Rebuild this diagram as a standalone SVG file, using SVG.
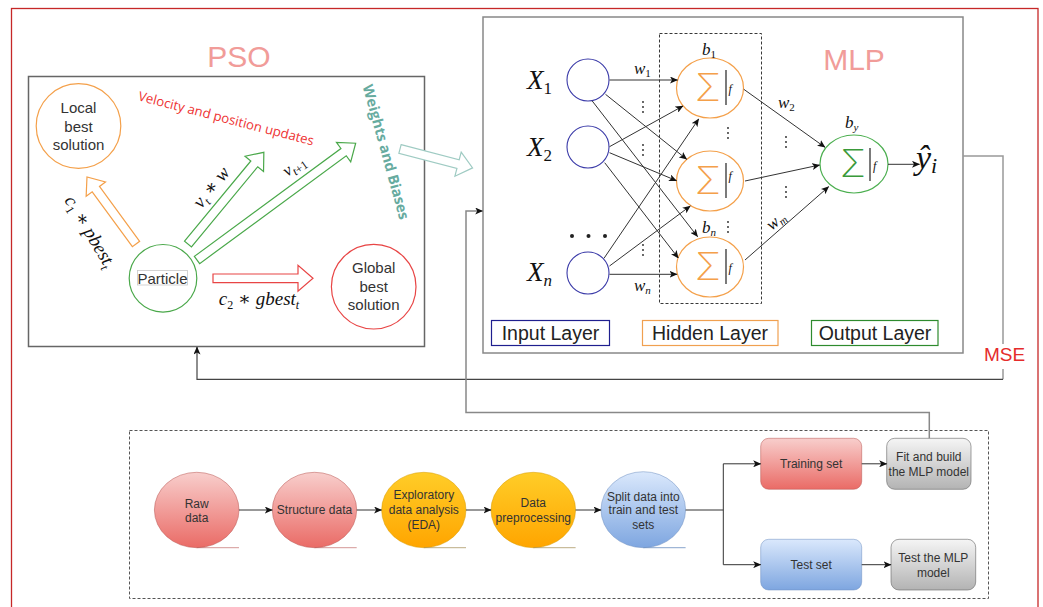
<svg xmlns="http://www.w3.org/2000/svg" width="1043" height="607" viewBox="0 0 1043 607">
<style>
.sans{font-family:"Liberation Sans",Arial,sans-serif;}
.m{font-family:"Liberation Serif","DejaVu Serif",serif;font-style:italic;fill:#111;}
.up{font-style:normal;}
.lbl{font-family:"Liberation Sans",Arial,sans-serif;font-size:15px;fill:#333;text-anchor:middle;}
.fl{font-family:"Liberation Sans",Arial,sans-serif;font-size:12px;fill:#333;text-anchor:middle;}
.title{font-family:"Liberation Sans",Arial,sans-serif;font-size:30px;fill:#f19c99;text-anchor:middle;}
.ln{stroke:#333;stroke-width:1;fill:none;}
.arr{marker-end:url(#ah);}
.sig{font-family:Inter,"DejaVu Sans",sans-serif;font-weight:200;font-size:38px;text-anchor:middle;}
.dot{fill:#222;}
</style>
<defs>
<marker id="ah" markerWidth="8" markerHeight="7" refX="7.5" refY="3.5" orient="auto" markerUnits="userSpaceOnUse">
<path d="M0,0 L8,3.5 L0,7 L2,3.5 z" fill="#111"/>
</marker>
<linearGradient id="gr" x1="0" y1="0" x2="0" y2="1"><stop offset="0" stop-color="#f8cecc"/><stop offset="1" stop-color="#ea6b66"/></linearGradient>
<linearGradient id="gy" x1="0" y1="0" x2="0" y2="1"><stop offset="0" stop-color="#ffcd28"/><stop offset="1" stop-color="#ffa500"/></linearGradient>
<linearGradient id="gb" x1="0" y1="0" x2="0" y2="1"><stop offset="0" stop-color="#dae8fc"/><stop offset="1" stop-color="#7ea6e0"/></linearGradient>
<linearGradient id="gg" x1="0" y1="0" x2="0" y2="1"><stop offset="0" stop-color="#f5f5f5"/><stop offset="1" stop-color="#b3b3b3"/></linearGradient>
</defs>

<rect width="1043" height="607" fill="#fff"/>
<!-- outer frame -->
<rect x="11.5" y="8.5" width="1026.5" height="620" fill="none" stroke="#c62828" stroke-width="1.3"/>

<!-- PSO -->
<g id="pso">
<text class="title" x="239" y="67">PSO</text>
<rect x="28.5" y="76.5" width="396" height="270" fill="none" stroke="#666" stroke-width="1.5"/>
<g id="local-best">
<circle cx="78.5" cy="126" r="42.3" fill="none" stroke="#f4a04a" stroke-width="1.2"/>
<text class="lbl" x="78.5" y="112.8">Local</text>
<text class="lbl" x="78.5" y="131.5">best</text>
<text class="lbl" x="78.5" y="149.5">solution</text>
</g>
<g id="particle">
<circle cx="163" cy="278.3" r="33.8" fill="none" stroke="#4aa84a" stroke-width="1.2"/>
<rect x="137.5" y="270.5" width="50" height="14.5" fill="#fff" stroke="#c8c8c8" stroke-width="0.8"/>
<text class="lbl" x="162.5" y="283.5">Particle</text>
</g>
<g id="global-best">
<circle cx="373.7" cy="286.7" r="42.3" fill="none" stroke="#e84545" stroke-width="1.2"/>
<text class="lbl" x="373.7" y="273">Global</text>
<text class="lbl" x="373.7" y="291.5">best</text>
<text class="lbl" x="373.7" y="309.5">solution</text>
</g>
<g id="pso-arrows" fill="#fff" stroke-width="1.2">
<polygon transform="translate(136,244) rotate(-126.2)" points="0,-4.5 68,-4.5 68,-12 83,0 68,12 68,4.5 0,4.5" stroke="#f4a04a"/>
<polygon transform="translate(188,244) rotate(-50.4)" points="0,-4.5 104,-4.5 104,-12 119,0 104,12 104,4.5 0,4.5" stroke="#4aa84a"/>
<polygon transform="translate(197,260) rotate(-36.35)" points="0,-4.5 182,-4.5 182,-12 197,0 182,12 182,4.5 0,4.5" stroke="#4aa84a"/>
<polygon transform="translate(213,278.3)" points="0,-4.3 85,-4.3 85,-13 100,0 85,13 85,4.3 0,4.3" stroke="#e84545"/>
<polygon transform="translate(400,149) rotate(14.6)" points="0,-4.5 60,-4.5 60,-12.5 75,0 60,12.5 60,4.5 0,4.5" stroke="#9fcbc3"/>
</g>
<text transform="translate(226,119) rotate(14.5)" text-anchor="middle" dy="4" font-family="'Open Sans','Liberation Sans',sans-serif" font-size="13.2" fill="#ee3333">Velocity and position updates</text>
<text transform="translate(386,152) rotate(74.5)" text-anchor="middle" dy="5" font-family="'Open Sans','Liberation Sans',sans-serif" font-size="14.5" font-weight="bold" fill="#67ab9f">Weights and Biases</text>
<text class="m" transform="translate(89,232) rotate(59)" text-anchor="middle" dy="5" font-size="19">c<tspan class="up" font-size="12" dy="4">1</tspan><tspan dy="-4"> ∗ pbest</tspan><tspan font-size="12" dy="4">t</tspan></text>
<text class="m" transform="translate(212,188) rotate(-51)" text-anchor="middle" dy="5" font-size="19">v<tspan font-size="12" dy="4">t</tspan><tspan dy="-4"> ∗ w</tspan></text>
<text class="m" transform="translate(294,166) rotate(-35)" text-anchor="middle" dy="5" font-size="17">v<tspan font-size="12" dy="4">t</tspan><tspan class="up" font-size="12">+1</tspan></text>
<text class="m" x="259" y="305" text-anchor="middle" font-size="19">c<tspan class="up" font-size="12" dy="4">2</tspan><tspan dy="-4"> ∗ gbest</tspan><tspan font-size="12" dy="4">t</tspan></text>
</g>

<!-- MLP -->
<g id="mlp">
<rect x="483" y="17" width="480" height="336" fill="none" stroke="#888" stroke-width="1.5"/>
<text class="title" x="854" y="70">MLP</text>
<rect x="659.5" y="33.5" width="102" height="270" fill="none" stroke="#222" stroke-width="0.9" stroke-dasharray="3 2"/>
</g>
<g id="input-nodes" fill="none" stroke="#3a3aa8" stroke-width="1.1">
<circle id="x1" cx="588" cy="80" r="21"/>
<circle id="x2" cx="588" cy="147" r="21"/>
<circle id="xn" cx="588" cy="273" r="21"/>
</g>
<g id="input-labels">
<text class="m" x="527" y="89" font-size="27">X<tspan class="up" font-size="17" dy="5">1</tspan></text>
<text class="m" x="527" y="156" font-size="27">X<tspan class="up" font-size="17" dy="5">2</tspan></text>
<text class="m" x="527" y="281" font-size="27">X<tspan font-size="17" dy="5">n</tspan></text>
<circle class="dot" cx="572" cy="236" r="2"/><circle class="dot" cx="588.5" cy="236" r="2"/><circle class="dot" cx="605" cy="236" r="2"/>
</g>
<g id="hidden-nodes">
<g id="h1">
<ellipse cx="710" cy="88" rx="33.5" ry="30" fill="none" stroke="#f4a04a" stroke-width="1.2"/>
<text class="sig" x="708" y="101" fill="#f4a04a">Σ</text>
<line x1="726" y1="70" x2="726" y2="105" stroke="#333" stroke-width="1.3"/>
<text class="m" x="728.5" y="93" font-size="12">f</text>
</g>
<g id="h2">
<ellipse cx="710" cy="181" rx="33.5" ry="30" fill="none" stroke="#f4a04a" stroke-width="1.2"/>
<text class="sig" x="708" y="194" fill="#f4a04a">Σ</text>
<line x1="726" y1="163" x2="726" y2="198" stroke="#333" stroke-width="1.3"/>
<text class="m" x="728.5" y="180" font-size="12">f</text>
</g>
<g id="h3">
<ellipse cx="710" cy="267" rx="33.5" ry="30" fill="none" stroke="#f4a04a" stroke-width="1.2"/>
<text class="sig" x="708" y="280" fill="#f4a04a">Σ</text>
<line x1="726" y1="249" x2="726" y2="284" stroke="#333" stroke-width="1.3"/>
<text class="m" x="728.5" y="272" font-size="12">f</text>
</g>
</g>
<g id="output-node">
<ellipse cx="854" cy="164" rx="34" ry="29" fill="none" stroke="#4caf50" stroke-width="1.2"/>
<text class="sig" x="853" y="177" fill="#3a9a3a">Σ</text>
<line x1="870" y1="148" x2="870" y2="181" stroke="#333" stroke-width="1.3"/>
<text class="m" x="873" y="170" font-size="12">f</text>
</g>
<g id="yhat">
<text class="m" x="916" y="169" font-size="34">ŷ<tspan font-size="22" dy="4">i</tspan></text>
</g>
<g id="weights">
<text class="m" x="634" y="74" font-size="17">w<tspan class="up" font-size="11" dy="3">1</tspan></text>
<text class="m" x="778" y="108" font-size="17">w<tspan class="up" font-size="11" dy="3">2</tspan></text>
<text class="m" x="634" y="291" font-size="17">w<tspan font-size="11" dy="3">n</tspan></text>
<text class="m" transform="translate(776,221) rotate(-40)" text-anchor="middle" dy="5" font-size="17">w<tspan font-size="11" dy="3">m</tspan></text>
<text class="m" x="702" y="55" font-size="17">b<tspan class="up" font-size="11" dy="3">1</tspan></text>
<text class="m" x="702" y="233" font-size="17">b<tspan font-size="11" dy="3">n</tspan></text>
<text class="m" x="845" y="128" font-size="17">b<tspan font-size="11" dy="3">y</tspan></text>
</g>
<g id="vdots" class="dot">
<circle cx="643" cy="102" r="0.9"/><circle cx="643" cy="107" r="0.9"/><circle cx="643" cy="112" r="0.9"/>
<circle cx="643" cy="145" r="0.9"/><circle cx="643" cy="150" r="0.9"/><circle cx="643" cy="155" r="0.9"/>
<circle cx="643" cy="245" r="0.9"/><circle cx="643" cy="250" r="0.9"/><circle cx="643" cy="255" r="0.9"/>
<circle cx="728" cy="128" r="0.9"/><circle cx="728" cy="133" r="0.9"/><circle cx="728" cy="138" r="0.9"/>
<circle cx="728" cy="222" r="0.9"/><circle cx="728" cy="227" r="0.9"/><circle cx="728" cy="232" r="0.9"/>
<circle cx="786" cy="137" r="0.9"/><circle cx="786" cy="142" r="0.9"/><circle cx="786" cy="147" r="0.9"/>
<circle cx="786" cy="187" r="0.9"/><circle cx="786" cy="192" r="0.9"/><circle cx="786" cy="197" r="0.9"/>
</g>
<g id="layer-legend" class="sans" font-size="19.5" fill="#222" text-anchor="middle">
<g id="input-layer"><rect x="491.5" y="320.5" width="118" height="25" fill="#fff" stroke="#1f1f8f" stroke-width="1.2"/><text x="550.5" y="340">Input Layer</text></g>
<g id="hidden-layer"><rect x="642.5" y="320.5" width="135.5" height="25" fill="#fff" stroke="#f0a050" stroke-width="1.2"/><text x="710" y="340">Hidden Layer</text></g>
<g id="output-layer"><rect x="811.5" y="320.5" width="126.5" height="25" fill="#fff" stroke="#2e8b2e" stroke-width="1.2"/><text x="875" y="340">Output Layer</text></g>
</g>

<!-- bottom pipeline -->
<rect x="129.5" y="430.5" width="859" height="168" fill="none" stroke="#555" stroke-width="1" stroke-dasharray="3 2"/>
<g id="raw-data">
<ellipse cx="196.7" cy="510" rx="42.3" ry="37.7" fill="url(#gr)" stroke="#b85450" stroke-opacity="0.5"/>
<line x1="196.7" y1="547.7" x2="239" y2="547.7" stroke="#b85450" stroke-opacity="0.6"/>
<text class="fl" x="196.7" y="507.5">Raw</text><text class="fl" x="196.7" y="522">data</text>
</g>
<g id="structure-data">
<ellipse cx="314.5" cy="510" rx="42.2" ry="37.7" fill="url(#gr)" stroke="#b85450" stroke-opacity="0.5"/>
<line x1="314.5" y1="547.7" x2="356.7" y2="547.7" stroke="#b85450" stroke-opacity="0.6"/>
<text class="fl" x="314.5" y="514.3">Structure data</text>
</g>
<g id="eda">
<ellipse cx="423.8" cy="510" rx="42.2" ry="37.7" fill="url(#gy)" stroke="#d79b00" stroke-opacity="0.5"/>
<line x1="423.8" y1="547.7" x2="466" y2="547.7" stroke="#a08a50" stroke-opacity="0.7"/>
<text class="fl" x="423.8" y="499.3">Exploratory</text><text class="fl" x="423.8" y="514.3">data analysis</text><text class="fl" x="423.8" y="528.8">(EDA)</text>
</g>
<g id="data-preprocessing">
<ellipse cx="533.3" cy="510" rx="42.3" ry="37.7" fill="url(#gy)" stroke="#d79b00" stroke-opacity="0.5"/>
<line x1="533.3" y1="547.7" x2="575.6" y2="547.7" stroke="#a08a50" stroke-opacity="0.7"/>
<text class="fl" x="533.3" y="507">Data</text><text class="fl" x="533.3" y="522">preprocessing</text>
</g>
<g id="split-data">
<ellipse cx="643.3" cy="509.7" rx="42.3" ry="38" fill="url(#gb)" stroke="#6c8ebf" stroke-opacity="0.5"/>
<line x1="643.3" y1="547.7" x2="685.6" y2="547.7" stroke="#6c8ebf" stroke-opacity="0.8"/>
<text class="fl" x="643.3" y="501">Split data into</text><text class="fl" x="643.3" y="514.3">train and test</text><text class="fl" x="643.3" y="528.6">sets</text>
</g>
<g id="training-set">
<rect x="760.7" y="438.3" width="101" height="51" rx="8" fill="url(#gr)" stroke="#b85450" stroke-opacity="0.5"/>
<text class="fl" x="811.2" y="467.6">Training set</text>
</g>
<g id="test-set">
<rect x="760.7" y="539.3" width="101" height="50.7" rx="8" fill="url(#gb)" stroke="#6c8ebf" stroke-opacity="0.5"/>
<text class="fl" x="811.2" y="569">Test set</text>
</g>
<g id="fit-build">
<rect x="886.7" y="438.3" width="84.3" height="51" rx="8" fill="url(#gg)" stroke="#666" stroke-opacity="0.6"/>
<text class="fl" x="928.8" y="461">Fit and build</text><text class="fl" x="928.8" y="476">the MLP model</text>
</g>
<g id="test-mlp">
<rect x="891" y="539.3" width="84.7" height="50.7" rx="8" fill="url(#gg)" stroke="#666" stroke-opacity="0.6"/>
<text class="fl" x="933.3" y="562">Test the MLP</text><text class="fl" x="933.3" y="577">model</text>
</g>

<!-- connectors -->
<g id="connectors">
<line class="ln arr" x1="609.5" y1="80" x2="677.5" y2="80"/>
<line class="ln arr" x1="605.5" y1="94.3" x2="686.7" y2="159.3"/>
<line class="ln arr" x1="592" y1="100.7" x2="697.6" y2="236.7"/>
<line class="ln arr" x1="609.5" y1="146.7" x2="683" y2="106"/>
<line class="ln arr" x1="609.5" y1="152.7" x2="676.5" y2="180.7"/>
<line class="ln arr" x1="604.7" y1="162.7" x2="678.3" y2="258"/>
<line class="ln arr" x1="604" y1="258.3" x2="698.7" y2="119"/>
<line class="ln arr" x1="609.5" y1="266" x2="690.3" y2="206"/>
<line class="ln arr" x1="609.5" y1="274.3" x2="677" y2="274.3"/>
<line class="ln arr" x1="743.8" y1="89.3" x2="825" y2="147.3"/>
<line class="ln arr" x1="745" y1="181" x2="819.6" y2="165"/>
<line class="ln arr" x1="745" y1="260" x2="828.7" y2="186.7"/>
<line class="ln arr" x1="888" y1="164.3" x2="919.5" y2="164.3"/>
<path d="M963 156 H1003 V344" fill="none" stroke="#999" stroke-width="1.5"/>
<text x="1004.5" y="361" text-anchor="middle" class="sans" font-size="19" fill="#e52b2b">MSE</text>
<path d="M1003 369 V379.3" fill="none" stroke="#999" stroke-width="1.5"/>
<path class="arr" d="M1003 379.3 H197 V347" fill="none" stroke="#444" stroke-width="1.2"/>
<path class="arr" d="M929.3 438.3 V412.5 H466 V211 H482.7" fill="none" stroke="#888" stroke-width="1.5"/>
<line class="ln arr" x1="239" y1="510" x2="272.3" y2="510"/>
<line class="ln arr" x1="356.7" y1="510" x2="381.6" y2="510"/>
<line class="ln arr" x1="466" y1="510" x2="491" y2="510"/>
<line class="ln arr" x1="575.6" y1="510" x2="601" y2="510"/>
<path class="ln" d="M685.6 510 H723.3"/>
<path class="ln arr" d="M723.3 510 V463.8 H760.7"/>
<path class="ln arr" d="M723.3 510 V564.7 H760.7"/>
<line class="ln arr" x1="861.7" y1="463.8" x2="886.7" y2="463.8"/>
<line class="ln arr" x1="861.7" y1="564.7" x2="891" y2="564.7"/>
</g>
</svg>
